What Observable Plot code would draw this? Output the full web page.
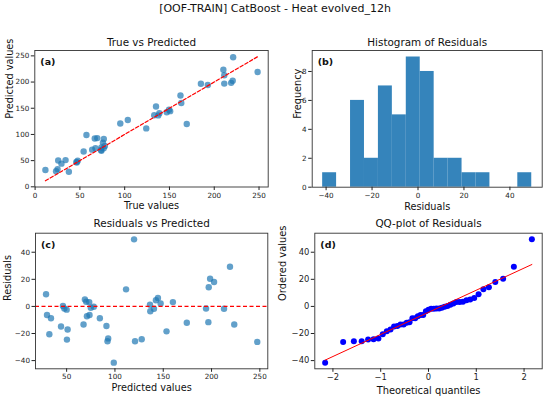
<!DOCTYPE html>
<html><head><meta charset="utf-8">
<script src="https://cdn.jsdelivr.net/npm/d3@7"></script>
<script src="https://cdn.jsdelivr.net/npm/@observablehq/plot@0.6"></script>
<style>
body{margin:0;background:#fff;}
#fig{position:relative;width:550px;height:398px;font-family:"DejaVu Sans",sans-serif;overflow:hidden;background:#fff}
#sup{position:absolute;left:0;top:2px;width:550px;text-align:center;font-size:11px;line-height:13px;color:#111}
</style></head><body>
<div id="fig"><div id="sup"></div></div>
<script>
const suptitle = "[OOF-TRAIN] CatBoost - Heat evolved_12h";
const panelTitles = ["True vs Predicted", "Histogram of Residuals", "Residuals vs Predicted", "QQ-plot of Residuals"];
const panelLetters = ["(a)", "(b)", "(c)", "(d)"];
const xLabels = ["True values", "Residuals", "Predicted values", "Theoretical quantiles"];
const yLabels = ["Predicted values", "Frequency", "Residuals", "Ordered values"];

const predicted = [28.7, 29.7, 32.1, 33.8, 44.2, 46.2, 47.6, 50.0, 51.0, 50.3, 67.5, 68.9, 70.3, 71.0, 73.4, 73.7, 75.0, 78.1, 84.4, 91.2, 92.3, 93.0, 98.8, 111.5, 119.8, 120.8, 127.7, 136.3, 136.6, 140.4, 142.4, 144.5, 147.3, 153.4, 160.0, 174.4, 194.3, 196.7, 197.1, 198.5, 202.6, 212.9, 219.1, 223.5, 247.3];
const trueValues = [37.7, 23.4, 11.5, 25.1, 29.4, 46.5, 46.1, 47.6, 34.0, 25.8, 54.2, 74.0, 73.7, 63.7, 76.6, 67.4, 74.0, 77.9, 75.7, 76.7, 66.6, 69.4, 57.3, 124.1, 169.3, 95.1, 103.5, 137.5, 133.0, 138.7, 147.0, 150.8, 149.5, 135.0, 163.2, 162.3, 192.8, 185.1, 211.2, 218.9, 220.6, 211.2, 248.4, 210.2, 221.1];
const theoreticalQuantiles = [-2.163, -1.786, -1.562, -1.398, -1.264, -1.149, -1.048, -0.957, -0.873, -0.795, -0.721, -0.651, -0.584, -0.520, -0.457, -0.397, -0.337, -0.279, -0.223, -0.166, -0.111, -0.055, 0, 0.055, 0.111, 0.166, 0.223, 0.279, 0.337, 0.397, 0.457, 0.520, 0.584, 0.651, 0.721, 0.795, 0.873, 0.957, 1.048, 1.149, 1.264, 1.398, 1.562, 1.786, 2.163];
const nBins = 15;

const ticksA = [0, 50, 100, 150, 200, 250];
const ticksHistX = [-40, -20, 0, 20, 40];
const ticksHistY = [0, 2, 4, 6, 8];
const ticksResX = [50, 100, 150, 200, 250];
const ticksResY = [-40, -20, 0, 20, 40];
const ticksQQX = [-2, -1, 0, 1, 2];
const ticksQQY = [-40, -20, 0, 20, 40];

document.getElementById("sup").textContent = suptitle;

const rows = trueValues.map((t, i) => ({t, p: predicted[i], r: t - predicted[i]}));
const residuals = rows.map(d => d.r);
const sortedRes = residuals.slice().sort(d3.ascending);
const qq = theoreticalQuantiles.map((q, i) => ({q, v: sortedRes[i]}));

const pad = ([a, b], lo = 0.05, hi = 0.05) => [a - lo * (b - a), b + hi * (b - a)];

const fig = document.getElementById("fig");
const C0 = "#1f77b4";

function panel(o) {
  const [mt, mr, mb, ml] = o.margins;
  const svg = Plot.plot({
    width: o.width, height: o.height,
    marginTop: mt, marginRight: mr, marginBottom: mb, marginLeft: ml,
    style: {fontFamily: '"DejaVu Sans", sans-serif', color: "#222", background: "transparent", overflow: "visible"},
    x: {domain: o.x, nice: false},
    y: {domain: o.y, nice: false},
    marks: [
      ...o.marks,
      Plot.frame({stroke: "#333", strokeWidth: 0.9}),
      Plot.axisX(o.xticks, {tickSize: 3.5, tickPadding: 2, fontSize: o.tickFont, label: null}),
      Plot.axisY(o.yticks, {tickSize: 3.5, tickPadding: 2, fontSize: o.tickFont, label: null}),
      Plot.text([o.title], {text: d => d, frameAnchor: "top", lineAnchor: "middle", dy: o.titleDy, fontSize: 10.4, fill: "#111"}),
      Plot.text([o.letter], {text: d => d, frameAnchor: "top-left", lineAnchor: "middle", textAnchor: "start", dx: 5.5, dy: 11.5, fontSize: 9.5, fontWeight: "bold", fill: "#111"}),
      Plot.text([o.xlabel], {text: d => d, frameAnchor: "bottom", lineAnchor: "middle", dy: o.xlabelDy, fontSize: o.labelFont, fill: "#111"}),
      Plot.text([o.ylabel], {text: d => d, frameAnchor: "left", lineAnchor: "middle", dx: o.ylabelDx, rotate: -90, fontSize: o.labelFont, fill: "#111"})
    ]
  });
  svg.style.position = "absolute";
  svg.style.left = o.left + "px";
  svg.style.top = o.top + "px";
  fig.appendChild(svg);
}

// (a) True vs Predicted
const tExt = d3.extent(trueValues);
panel({
  left: 0, top: 30, width: 275, height: 180, margins: [20, 7.3, 23.5, 34.3],
  x: pad(tExt), y: pad(d3.extent([...predicted, ...tExt])),
  xticks: ticksA, yticks: ticksA, tickFont: 7.2, labelFont: 9.7,
  title: panelTitles[0], letter: panelLetters[0], xlabel: xLabels[0], ylabel: yLabels[0],
  titleDy: -7.7, xlabelDy: 19.2, ylabelDx: -25,
  marks: [
    Plot.dot(rows, {x: "t", y: "p", r: 3.2, fill: C0, fillOpacity: 0.7}),
    Plot.line(tExt, {x: d => d, y: d => d, stroke: "red", strokeWidth: 1.2, strokeDasharray: "3.5,2"})
  ]
});

// (b) Histogram
const rExt = d3.extent(residuals);
const edges = d3.range(1, nBins).map(i => rExt[0] + i * (rExt[1] - rExt[0]) / nBins);
const bins = d3.bin().domain(rExt).thresholds(edges)(residuals);
panel({
  left: 275, top: 30, width: 275, height: 180, margins: [20, 8.3, 23.3, 36.7],
  x: pad(rExt), y: pad([0, d3.max(bins, b => b.length)], 0, 0.05),
  xticks: ticksHistX, yticks: ticksHistY, tickFont: 7.2, labelFont: 9.7,
  title: panelTitles[1], letter: panelLetters[1], xlabel: xLabels[1], ylabel: yLabels[1],
  titleDy: -7.7, xlabelDy: 19.2, ylabelDx: -14.7,
  marks: [
    Plot.rectY(bins, {x1: b => b.x0, x2: b => b.x1, y1: 0, y2: b => b.length, fill: C0, fillOpacity: 0.9, inset: 0})
  ]
});

// (c) Residuals vs Predicted
panel({
  left: 0, top: 210, width: 275, height: 188, margins: [22.7, 7.7, 29.7, 35],
  x: pad(d3.extent(predicted)), y: pad(rExt),
  xticks: ticksResX, yticks: ticksResY, tickFont: 7.2, labelFont: 9.7,
  title: panelTitles[2], letter: panelLetters[2], xlabel: xLabels[2], ylabel: yLabels[2],
  titleDy: -9.7, xlabelDy: 19, ylabelDx: -27.5,
  marks: [
    Plot.dot(rows, {x: "p", y: "r", r: 3.2, fill: C0, fillOpacity: 0.7}),
    Plot.ruleY([0], {stroke: "red", strokeWidth: 1.3, strokeDasharray: "4,2.5"})
  ]
});

// (d) QQ plot
panel({
  left: 275, top: 210, width: 275, height: 188, margins: [22.7, 8.3, 29.7, 39.3],
  x: pad(d3.extent(theoreticalQuantiles)), y: pad(rExt),
  xticks: ticksQQX, yticks: ticksQQY, tickFont: 8.4, labelFont: 9.9,
  title: panelTitles[3], letter: panelLetters[3], xlabel: xLabels[3], ylabel: yLabels[3],
  titleDy: -9.7, xlabelDy: 21.7, ylabelDx: -31.5,
  marks: [
    Plot.dot(qq, {x: "q", y: "v", r: 3, fill: "#0000ff"}),
    Plot.linearRegressionY(qq, {x: "q", y: "v", stroke: "red", strokeWidth: 1, ci: 0})
  ]
});
</script>
</body></html>
